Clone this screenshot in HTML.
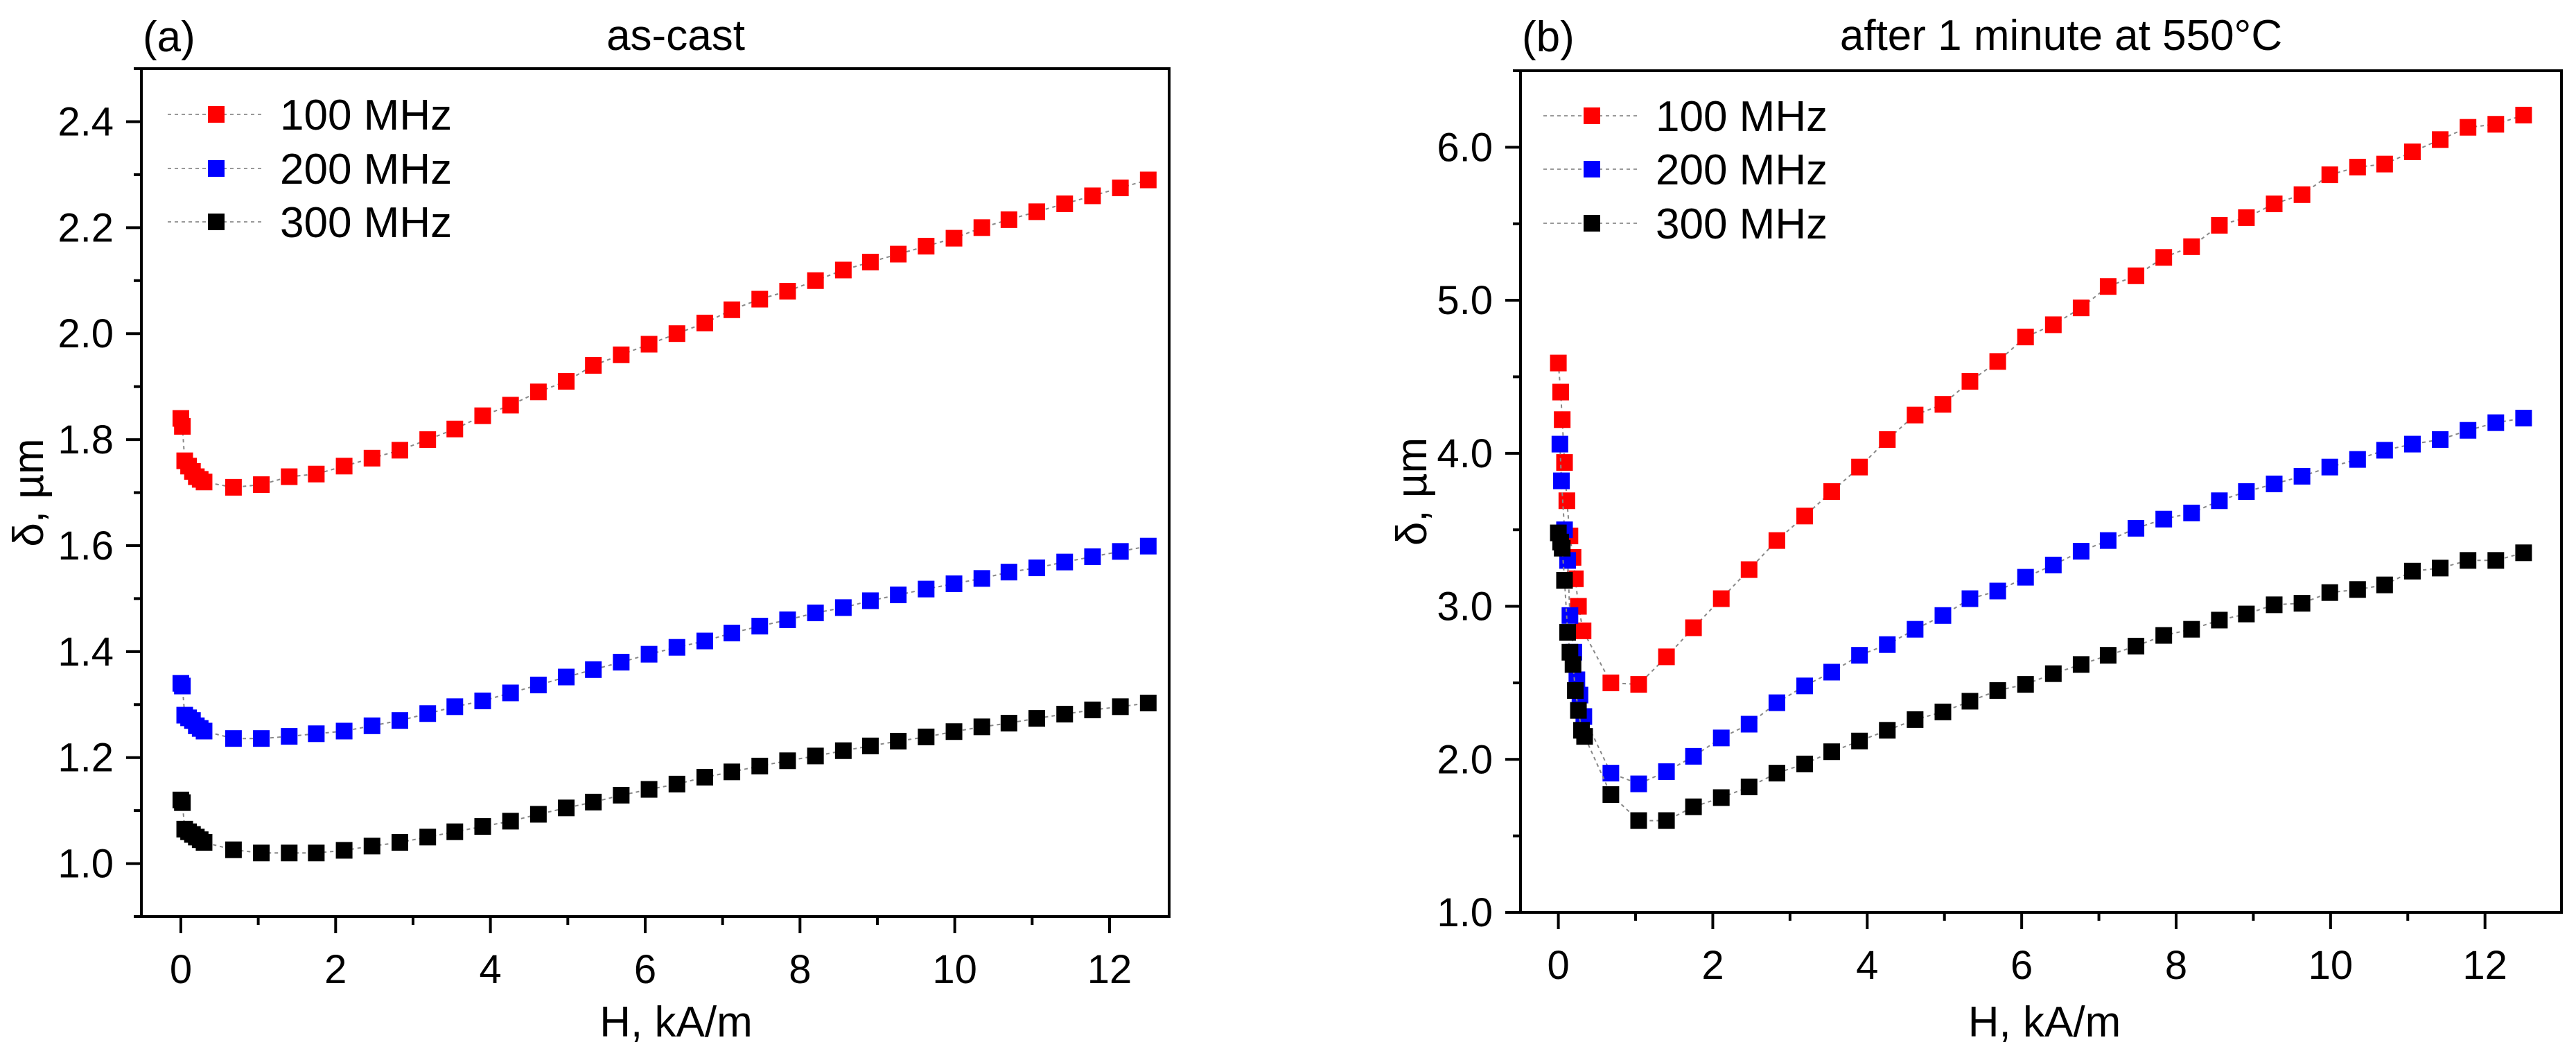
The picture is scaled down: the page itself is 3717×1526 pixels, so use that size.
<!DOCTYPE html>
<html><head><meta charset="utf-8">
<style>
html,body{margin:0;padding:0;background:#fff;}
svg{display:block;font-family:"Liberation Sans",Arial,sans-serif;}
</style></head>
<body>
<svg id="chart" width="3717" height="1526" viewBox="0 0 3717 1526" xmlns="http://www.w3.org/2000/svg"></svg>
<script>
// ---------- data ----------
const xEarlyA = [0, 0.02, 0.05, 0.1, 0.15, 0.2, 0.25, 0.3];
const xMain = [0.68,1.04,1.40,1.75,2.11,2.47,2.83,3.19,3.54,3.90,4.26,4.62,4.98,5.33,5.69,6.05,6.41,6.77,7.12,7.48,7.84,8.20,8.56,8.91,9.27,9.63,9.99,10.35,10.70,11.06,11.42,11.78,12.14,12.50];

const a100Early = [1.84,1.825,1.76,1.75,1.74,1.73,1.725,1.72];
const a100 = [1.71,1.715,1.73,1.735,1.75,1.765,1.78,1.80,1.82,1.845,1.865,1.89,1.91,1.94,1.96,1.98,2.00,2.02,2.045,2.065,2.08,2.10,2.12,2.135,2.15,2.165,2.18,2.20,2.215,2.23,2.245,2.26,2.275,2.29];
const a200Early = [1.34,1.335,1.28,1.275,1.27,1.26,1.255,1.25];
const a200 = [1.236,1.236,1.24,1.245,1.25,1.26,1.27,1.283,1.296,1.307,1.322,1.337,1.352,1.366,1.38,1.395,1.408,1.42,1.435,1.448,1.46,1.473,1.483,1.496,1.507,1.518,1.528,1.538,1.55,1.558,1.569,1.579,1.589,1.599];
const a300Early = [1.12,1.115,1.065,1.06,1.055,1.05,1.045,1.04];
const a300 = [1.026,1.02,1.02,1.02,1.025,1.033,1.04,1.05,1.06,1.07,1.08,1.093,1.105,1.116,1.129,1.14,1.15,1.163,1.173,1.184,1.194,1.203,1.213,1.222,1.231,1.239,1.249,1.258,1.265,1.274,1.282,1.29,1.296,1.303];

const xEarlyB100 = [0,0.03,0.05,0.08,0.11,0.15,0.19,0.22,0.26,0.32];
const b100Early = [4.59,4.40,4.22,3.94,3.69,3.46,3.32,3.18,3.00,2.84];
const b100 = [2.50,2.49,2.67,2.86,3.05,3.24,3.43,3.59,3.75,3.91,4.09,4.25,4.32,4.47,4.60,4.76,4.84,4.95,5.09,5.16,5.28,5.35,5.49,5.54,5.63,5.69,5.82,5.87,5.89,5.97,6.05,6.13,6.15,6.21];
const xEarlyB200 = [0.02,0.04,0.08,0.12,0.15,0.2,0.24,0.28,0.33];
const b200Early = [4.06,3.82,3.50,3.30,2.94,2.70,2.52,2.42,2.28];
const b200 = [1.91,1.84,1.92,2.02,2.14,2.23,2.37,2.48,2.57,2.68,2.75,2.85,2.94,3.05,3.10,3.19,3.27,3.36,3.43,3.51,3.57,3.61,3.69,3.75,3.80,3.85,3.91,3.96,4.02,4.06,4.09,4.15,4.20,4.23];
const xEarlyB300 = [0,0.03,0.05,0.08,0.12,0.15,0.19,0.22,0.26,0.3,0.34];
const b300Early = [3.48,3.42,3.38,3.17,2.83,2.70,2.62,2.45,2.32,2.19,2.15];
const b300 = [1.77,1.60,1.60,1.69,1.75,1.82,1.91,1.97,2.05,2.12,2.19,2.26,2.31,2.38,2.45,2.49,2.56,2.62,2.68,2.74,2.81,2.85,2.91,2.95,3.01,3.02,3.09,3.11,3.14,3.23,3.25,3.30,3.30,3.35];

const xTicks = [0,2,4,6,8,10,12];
const xTickLabels = ["0","2","4","6","8","10","12"];
const yTicksA = [1.0,1.2,1.4,1.6,1.8,2.0,2.2,2.4];
const yTickLabelsA = ["1.0","1.2","1.4","1.6","1.8","2.0","2.2","2.4"];
const yTicksB = [1,2,3,4,5,6];
const yTickLabelsB = ["1.0","2.0","3.0","4.0","5.0","6.0"];
const seriesNames = ["100 MHz","200 MHz","300 MHz"];
const seriesColors = ["#ff0000","#0000ff","#000000"];

// ---------- drawing ----------
const NS = "http://www.w3.org/2000/svg";
const svg = document.getElementById("chart");
function mk(tag, attrs, parent){
  const e = document.createElementNS(NS, tag);
  for (const k in attrs) e.setAttribute(k, attrs[k]);
  (parent||svg).appendChild(e);
  return e;
}

function panel(cfg){
  const g = mk("g", {});
  
  
  const sx = v => cfg.L + (v - cfg.xmin)/(cfg.xmax - cfg.xmin)*(cfg.R - cfg.L);
  const sy = v => cfg.B - (v - cfg.ymin)/(cfg.ymax - cfg.ymin)*(cfg.B - cfg.T);

  // series
  cfg.series.forEach((s, i) => {
    const xs = s.xe.concat(xMain), ys = s.ye.concat(s.y);
    const sg = mk("g", {}, g);
    
    
    const pts = xs.map((x, j) => sx(x).toFixed(1) + "," + sy(ys[j]).toFixed(1)).join(" ");
    const pl = mk("polyline", {points: pts, fill: "none", stroke: "#888", "stroke-width": 2, "stroke-dasharray": "5,5"}, sg);
    
    
    xs.forEach((x, j) => {
      const r = mk("rect", {x: sx(x) - 12, y: sy(ys[j]) - 12, width: 24, height: 24, fill: seriesColors[i]}, sg);
      
      
    });
  });

  // frame
  const fr = mk("rect", {x: cfg.L, y: cfg.T, width: cfg.R - cfg.L, height: cfg.B - cfg.T, fill: "none", stroke: "#000", "stroke-width": 4}, g);
  
  

  // x ticks
  for (let v = 0; v <= 12.001; v += 1){
    const major = Math.abs(v % 2) < 1e-6;
    const t = mk("line", {x1: sx(v), x2: sx(v), y1: cfg.B, y2: cfg.B + (major ? 24 : 12), stroke: "#000", "stroke-width": 4}, g);
    
    
  }
  xTicks.forEach((v, i) => {
    const t = mk("text", {x: sx(v), y: cfg.B + 96, "font-size": 58, "text-anchor": "middle", fill: "#000"}, g);
    t.textContent = xTickLabels[i];
    
    
  });
  // y ticks
  for (let v = cfg.ymin; v <= cfg.ymax + 1e-6; v += cfg.minor){
    const isMajor = cfg.yt.some(m => Math.abs(m - v) < 1e-6);
    const t = mk("line", {x1: cfg.L, x2: cfg.L - (isMajor ? 22 : 11), y1: sy(v), y2: sy(v), stroke: "#000", "stroke-width": 4}, g);
    
    
  }
  cfg.yt.forEach((v, i) => {
    const t = mk("text", {x: cfg.L - 40, y: sy(v) + 20, "font-size": 58, "text-anchor": "end", fill: "#000"}, g);
    t.textContent = cfg.ytl[i];
    
    
  });

  // axis titles
  const xt = mk("text", {x: (cfg.L + cfg.R)/2 + cfg.xtOff, y: 1495, "font-size": 62, "text-anchor": "middle", fill: "#000"}, g);
  xt.textContent = "H, kA/m";
  
  
  const yc = (cfg.T + cfg.B)/2;
  const yt = mk("text", {x: cfg.ytX, y: yc, "font-size": 62, "text-anchor": "middle", fill: "#000", transform: "rotate(-90 " + cfg.ytX + " " + yc + ")"}, g);
  yt.textContent = "δ, µm";
  
  

  // panel label & title
  const pl = mk("text", {x: cfg.L + 2, y: 74, "font-size": 62, fill: "#000"}, g);
  pl.textContent = cfg.label;
  
  
  const ti = mk("text", {x: cfg.titleX, y: 72, "font-size": 62, "text-anchor": "middle", fill: "#000"}, g);
  ti.textContent = cfg.title;
  
  

  // legend
  const lg = mk("g", {}, g);
  
  
  seriesNames.forEach((n, i) => {
    const y = cfg.legY[i];
    const ln = mk("line", {x1: cfg.legX - 70, x2: cfg.legX + 70, y1: y, y2: y, stroke: "#999", "stroke-width": 2, "stroke-dasharray": "5,5"}, lg);
    
    
    const r = mk("rect", {x: cfg.legX - 12, y: y - 12, width: 24, height: 24, fill: seriesColors[i]}, lg);
    
    
    const t = mk("text", {x: cfg.legX + 92, y: y + 22, "font-size": 62, fill: "#000"}, lg);
    t.textContent = n;
    
    
  });
}

panel({name: "panel-a-as-cast", L: 204, R: 1687, T: 99, B: 1322, xmin: -0.51, xmax: 12.77, ymin: 0.9, ymax: 2.5, minor: 0.1,
  yt: yTicksA, ytl: yTickLabelsA, label: "(a)", title: "as-cast", titleX: 975, ytX: 62, xtOff: 30,
  legX: 312, legY: [165, 243, 320],
  series: [{xe: xEarlyA, ye: a100Early, y: a100}, {xe: xEarlyA, ye: a200Early, y: a200}, {xe: xEarlyA, ye: a300Early, y: a300}]});

panel({name: "panel-b-annealed", L: 2194, R: 3696, T: 102, B: 1316, xmin: -0.49, xmax: 12.99, ymin: 1.0, ymax: 6.5, minor: 0.5,
  yt: yTicksB, ytl: yTickLabelsB, label: "(b)", title: "after 1 minute at 550°C", titleX: 2974, ytX: 2058, xtOff: 5,
  legX: 2297, legY: [167, 244, 322],
  series: [{xe: xEarlyB100, ye: b100Early, y: b100}, {xe: xEarlyB200, ye: b200Early, y: b200}, {xe: xEarlyB300, ye: b300Early, y: b300}]});
</script>
</body></html>
